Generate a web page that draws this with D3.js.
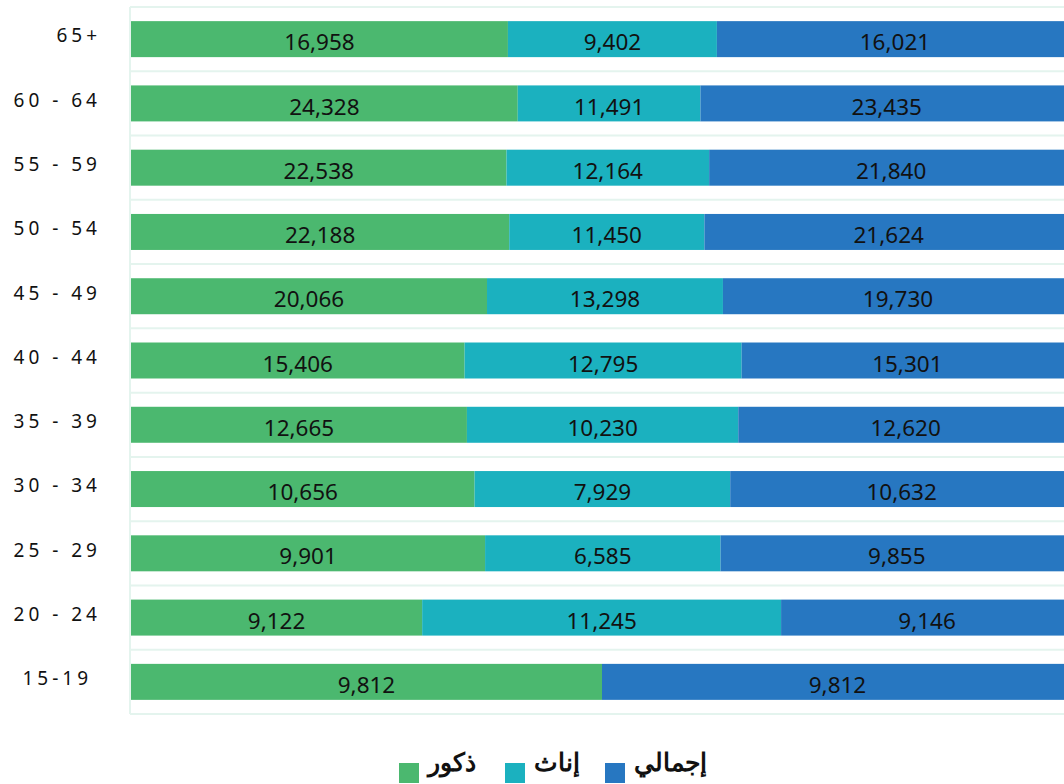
<!DOCTYPE html>
<html>
<head>
<meta charset="utf-8">
<script src="https://cdnjs.cloudflare.com/ajax/libs/d3/7.8.5/d3.min.js"></script>
<style>
  body { margin: 0; background: #fff; overflow: hidden; }
  text { font-family: "Noto Sans", "Open Sans", sans-serif; }
</style>
</head>
<body>
<div id="vis"></div>
<script>
var ageGroups = ['65+', '60 - 64', '55 - 59', '50 - 54', '45 - 49', '40 - 44',
                 '35 - 39', '30 - 34', '25 - 29', '20 - 24', '15-19\u00a0'];
var males   = [16958, 24328, 22538, 22188, 20066, 15406, 12665, 10656, 9901, 9122, 9812];
var females = [9402, 11491, 12164, 11450, 13298, 12795, 10230, 7929, 6585, 11245, 0];
var totals  = [16021, 23435, 21840, 21624, 19730, 15301, 12620, 10632, 9855, 9146, 9812];
var seriesNames = ['ذكور', 'إناث', 'إجمالي'];
var seriesColors = ['#4bb86f', '#1bb1bf', '#2777c1'];

var keys = ['m', 'f', 't'];
var data = ageGroups.map((a, i) => ({age: a, m: males[i], f: females[i], t: totals[i]}));

var width = 1064, height = 784;
var margin = {top: 7, left: 131, right: -9, bottom: 70};

var svg = d3.select('#vis').append('svg')
    .attr('width', width)
    .attr('height', height);

var x = d3.scaleLinear()
    .domain([0, 1])
    .range([margin.left, width - margin.right]);

var y = d3.scaleBand()
    .domain(ageGroups)
    .range([margin.top, height - margin.bottom])
    .paddingInner(0.44)
    .paddingOuter(0.22);

var color = d3.scaleOrdinal().domain(keys).range(seriesColors);

var stacked = d3.stack().keys(keys).offset(d3.stackOffsetExpand)(data);

// grid: band boundaries + left edge
var step = y.step();
var bounds = ageGroups.map(a => y(a) - step * 0.22).concat([y(ageGroups[ageGroups.length - 1]) + y.bandwidth() + step * 0.22]);
svg.append('g').selectAll('line')
    .data(bounds)
    .enter().append('line')
    .attr('x1', margin.left - 1).attr('x2', width)
    .attr('y1', d => d).attr('y2', d => d)
    .attr('stroke', '#e4f4ee').attr('stroke-width', 2);
svg.append('line')
    .attr('x1', margin.left - 1).attr('x2', margin.left - 1)
    .attr('y1', bounds[0]).attr('y2', bounds[bounds.length - 1])
    .attr('stroke', '#e4f4ee').attr('stroke-width', 2);

var layers = svg.selectAll('g.layer')
    .data(stacked)
    .enter().append('g')
    .attr('class', 'layer')
    .attr('fill', d => color(d.key));

layers.selectAll('rect')
    .data(d => d)
    .enter().append('rect')
    .attr('x', d => x(d[0]))
    .attr('y', d => y(d.data.age))
    .attr('width', d => x(d[1]) - x(d[0]))
    .attr('height', y.bandwidth());

var fmt = d3.format(',');
stacked.forEach(layer => {
    svg.append('g').selectAll('text')
        .data(layer.filter(d => d.data[layer.key] > 0))
        .enter().append('text')
        .attr('x', d => (x(d[0]) + x(d[1])) / 2)
        .attr('y', d => y(d.data.age) + y.bandwidth() / 2 + 3)
        .attr('dy', '0.36em')
        .attr('text-anchor', 'middle')
        .attr('font-size', 22.5)
        .attr('fill', '#111')
        .text(d => fmt(d.data[layer.key]));
});

// category labels
svg.append('g').selectAll('text')
    .data(ageGroups)
    .enter().append('text')
    .attr('x', 101)
    .attr('y', d => y(d) + y.bandwidth() / 2 - 3.5)
    .attr('dy', '0.36em')
    .attr('text-anchor', 'end')
    .attr('font-size', 19)
    .attr('letter-spacing', 4)
    .attr('fill', '#111')
    .text(d => d);

// legend
var legendX = [399, 505, 605];
var legend = svg.append('g').selectAll('g')
    .data(keys)
    .enter().append('g')
    .attr('transform', (d, i) => 'translate(' + legendX[i] + ',763)');
legend.append('rect')
    .attr('width', 20).attr('height', 20)
    .attr('fill', d => color(d));
legend.append('text')
    .attr('x', 29)
    .attr('y', 8)
    .attr('font-size', 25)
    .attr('font-weight', 'bold')
    .attr('text-anchor', 'start')
    .attr('direction', 'ltr')
    .attr('fill', '#111')
    .text((d, i) => seriesNames[i]);
</script>
</body>
</html>
